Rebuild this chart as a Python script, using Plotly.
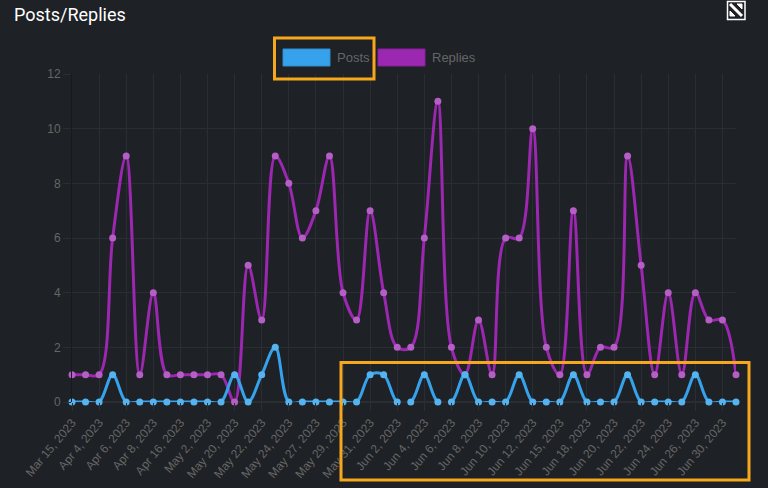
import plotly.graph_objects as go

dates = [
    "Mar 15, 2023", "Mar 28, 2023", "Apr 4, 2023", "Apr 5, 2023", "Apr 6, 2023",
    "Apr 7, 2023", "Apr 8, 2023", "Apr 12, 2023", "Apr 16, 2023", "Apr 25, 2023",
    "May 2, 2023", "May 15, 2023", "May 20, 2023", "May 21, 2023", "May 22, 2023",
    "May 23, 2023", "May 24, 2023", "May 26, 2023", "May 27, 2023", "May 28, 2023",
    "May 29, 2023", "May 30, 2023", "May 31, 2023", "Jun 1, 2023", "Jun 2, 2023",
    "Jun 3, 2023", "Jun 4, 2023", "Jun 5, 2023", "Jun 6, 2023", "Jun 7, 2023",
    "Jun 8, 2023", "Jun 9, 2023", "Jun 10, 2023", "Jun 11, 2023", "Jun 12, 2023",
    "Jun 14, 2023", "Jun 15, 2023", "Jun 16, 2023", "Jun 18, 2023", "Jun 19, 2023",
    "Jun 20, 2023", "Jun 21, 2023", "Jun 22, 2023", "Jun 23, 2023", "Jun 24, 2023",
    "Jun 25, 2023", "Jun 26, 2023", "Jun 28, 2023", "Jun 30, 2023", "Jul 1, 2023",
]

posts = [0, 0, 0, 1, 0, 0, 0, 0, 0, 0, 0, 0, 1, 0, 1, 2, 0, 0,
         0, 0, 0, 0, 1, 1, 0, 0, 1, 0, 0, 1, 0, 0, 0, 1, 0, 0,
         0, 1, 0, 0, 0, 1, 0, 0, 0, 0, 1, 0, 0, 0]

replies = [1, 1, 1, 6, 9, 1, 4, 1, 1, 1, 1, 1, 0, 5, 3, 9, 8, 6,
           7, 9, 4, 3, 7, 4, 2, 2, 6, 11, 2, 1, 3, 1, 6, 6, 10, 2,
           1, 7, 1, 2, 2, 9, 5, 1, 4, 1, 4, 3, 3, 1]

y_ticks = [0, 2, 4, 6, 8, 10, 12]

BG = "#1e2125"
GRID = "#2a2d32"
TICK = "#666666"
BLUE = "#36a2eb"
PURPLE = "#9c27b0"
ORANGE = "#f5a81c"
FS = 12

idx = list(range(len(dates)))
tick_idx = idx[::2]
tick_txt = [dates[i] for i in tick_idx]

fig = go.Figure()
fig.add_trace(go.Scatter(
    x=idx, y=replies, mode="lines+markers", name="Replies",
    line=dict(color=PURPLE, width=3, shape="spline", smoothing=1.0),
    marker=dict(size=7, color="#b45ec6"), cliponaxis=False,
))
fig.add_trace(go.Scatter(
    x=idx, y=posts, mode="lines+markers", name="Posts",
    line=dict(color=BLUE, width=3, shape="spline", smoothing=1.0),
    marker=dict(size=7, color="#55b3f0"), cliponaxis=False,
))

W, H = 768, 488
L, R, T, B = 72, 32, 74, 86

def paper_x(x):
    return (x - L) / (W - L - R)

def paper_y(y):
    return (H - B - y) / (H - T - B)

def rect(x0, y0, x1, y1, **kw):
    return dict(type="rect", xref="paper", yref="paper",
                x0=paper_x(x0), x1=paper_x(x1), y0=paper_y(y1), y1=paper_y(y0), **kw)

shapes = [
    rect(283, 49, 330, 66, fillcolor=BLUE, line=dict(color="#2f8fd0", width=1)),
    rect(378, 49, 425, 66, fillcolor=PURPLE, line=dict(color="#86209a", width=1)),
    rect(274.5, 38, 374, 79, line=dict(color=ORANGE, width=3)),
    rect(341, 362.5, 749, 480, line=dict(color=ORANGE, width=3)),
    # expand icon
    rect(727.5, 1.5, 745, 19.5, line=dict(color="#ffffff", width=1.5)),
    dict(type="path", xref="paper", yref="paper",
         path=f"M {paper_x(730)},{paper_y(4)} L {paper_x(742)},{paper_y(16)}",
         line=dict(color="#ffffff", width=3)),
    dict(type="path", xref="paper", yref="paper",
         path=f"M {paper_x(737)},{paper_y(4)} L {paper_x(742)},{paper_y(4)} L {paper_x(742)},{paper_y(9)} Z",
         fillcolor="#ffffff", line=dict(color="#ffffff", width=1)),
    dict(type="path", xref="paper", yref="paper",
         path=f"M {paper_x(730)},{paper_y(11)} L {paper_x(730)},{paper_y(16)} L {paper_x(735)},{paper_y(16)} Z",
         fillcolor="#ffffff", line=dict(color="#ffffff", width=1)),
]

annotations = [
    dict(text="Posts/Replies", xref="paper", yref="paper", x=paper_x(12), y=paper_y(14),
         xanchor="left", yanchor="middle", showarrow=False,
         font=dict(family="Roboto", size=18, color="#ffffff")),
    dict(text="Posts", xref="paper", yref="paper", x=paper_x(335), y=paper_y(57.5),
         xanchor="left", yanchor="middle", showarrow=False,
         font=dict(family="Liberation Sans", size=13, color=TICK)),
    dict(text="Replies", xref="paper", yref="paper", x=paper_x(430), y=paper_y(57.5),
         xanchor="left", yanchor="middle", showarrow=False,
         font=dict(family="Liberation Sans", size=13, color=TICK)),
]

fig.update_layout(
    width=W, height=H, autosize=False,
    margin=dict(l=L, r=R, t=T, b=B),
    paper_bgcolor=BG, plot_bgcolor=BG,
    showlegend=False,
    shapes=shapes, annotations=annotations,
    xaxis=dict(
        range=[0, len(dates) - 1], tickmode="array", tickvals=tick_idx, ticktext=tick_txt,
        tickangle=-50, showgrid=True, gridcolor=GRID, gridwidth=1,
        ticks="outside", ticklen=8, tickcolor=GRID, zeroline=False,
        tickfont=dict(family="Liberation Sans", size=FS, color=TICK),
        showline=False, fixedrange=True, automargin=False,
    ),
    yaxis=dict(
        range=[0, 12], tickmode="array", tickvals=y_ticks,
        showgrid=True, gridcolor=GRID, gridwidth=1, zeroline=True, zerolinecolor=GRID,
        ticks="outside", ticklen=8, tickcolor=GRID,
        tickfont=dict(family="Liberation Sans", size=FS, color=TICK),
        showline=True, linecolor="#17191c", linewidth=1, fixedrange=True, automargin=False,
    ),
)

fig.write_html(
    "out.html",
    config={"displayModeBar": False},
    post_script="document.body.style.margin='0';document.body.style.background='%s';document.body.style.overflow='hidden';" % BG,
)
